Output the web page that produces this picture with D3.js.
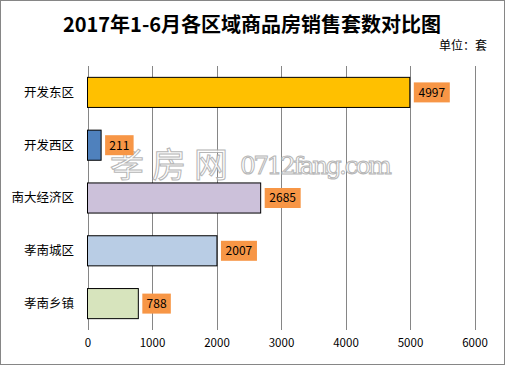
<!DOCTYPE html>
<html><head><meta charset="utf-8">
<script src="https://cdn.jsdelivr.net/npm/d3@7"></script>
<style>body{margin:0;background:#fff}svg{display:block}</style>
</head><body>
<script>
const categories = ["开发东区","开发西区","南大经济区","孝南城区","孝南乡镇"];
const values = [4997, 211, 2685, 2007, 788];
const barColors = ["#FFC000","#4F81BD","#CCC1DA","#B9CDE5","#D7E4BD"];
const xTicks = [0,1000,2000,3000,4000,5000,6000];
const title = "2017年1-6月各区域商品房销售套数对比图";
const unitLabel = "单位：套";

const W=505,H=365;
const svg=d3.select("body").append("svg").attr("width",W).attr("height",H);
const font="'Noto Sans CJK SC','Microsoft YaHei',sans-serif";
svg.append("rect").attr("x",0.5).attr("y",0.5).attr("width",W-1).attr("height",H-1)
  .attr("fill","#fff").attr("stroke","#868686");

const x=d3.scaleLinear().domain([0,6000]).range([87.5,474.5]);
const y=d3.scaleBand().domain(categories).range([66,330]).paddingInner(0.43).paddingOuter(0.215);

// gridlines
svg.append("g").selectAll("line").data(xTicks).join("line")
  .attr("x1",d=>Math.round(x(d))+0.5).attr("x2",d=>Math.round(x(d))+0.5)
  .attr("y1",66).attr("y2",330).attr("stroke","#868686").attr("stroke-width",1);

// axis labels
const ax=d3.axisBottom(x).tickValues(xTicks).tickFormat(d3.format("d")).tickSize(0).tickPadding(0);
const axg=svg.append("g").attr("transform","translate(0,339)").call(ax);
axg.select(".domain").remove();
axg.selectAll("text").attr("font-family",font).attr("font-size",11.5).attr("fill","#000").attr("dy","0.71em");

// category labels
svg.append("g").selectAll("text").data(categories).join("text")
  .attr("x",74).attr("y",d=>y(d)+y.bandwidth()/2).attr("dy","0.35em")
  .attr("text-anchor","end").attr("font-family",font).attr("font-size",12.5).text(d=>d);

// bars
svg.append("g").selectAll("rect").data(values).join("rect")
  .attr("x",x(0)).attr("y",(d,i)=>y(categories[i]))
  .attr("width",d=>x(d)-x(0)).attr("height",y.bandwidth())
  .attr("fill",(d,i)=>barColors[i]).attr("stroke","#000").attr("stroke-width",1);

// watermark
const wm=svg.append("g").attr("opacity",0.85);
wm.append("text").attr("x",110).attr("y",177).attr("font-family",font).attr("font-size",34)
  .attr("fill","#fff").attr("stroke","#aaa").attr("stroke-width",1).attr("textLength",118)
  .text("孝房网");
wm.append("text").attr("x",240).attr("y",174).attr("font-family","'DejaVu Serif',serif").attr("font-size",25)
  .attr("fill","#fff").attr("stroke","#aaa").attr("stroke-width",1).attr("textLength",152)
  .text("0712fang.com");

// data labels
const lw=d=>String(d).length*7.5+6;
const lg=svg.append("g").selectAll("g").data(values).join("g")
  .attr("transform",(d,i)=>`translate(${x(d)+4},${y(categories[i])+y.bandwidth()/2})`);
lg.append("rect").attr("x",0).attr("y",-10).attr("height",20)
  .attr("width",lw).attr("fill","#F79646");
lg.append("text").attr("x",d=>lw(d)/2).attr("dy","0.36em").attr("text-anchor","middle")
  .attr("font-family",font).attr("font-size",12).attr("fill","#000").text(d=>d);

// title
svg.append("text").attr("x",252).attr("y",32).attr("text-anchor","middle")
  .attr("font-family",font).attr("font-size",20).attr("font-weight","bold").text(title);
svg.append("text").attr("x",487).attr("y",50).attr("text-anchor","end")
  .attr("font-family",font).attr("font-size",12).text(unitLabel);
</script>
</body></html>
